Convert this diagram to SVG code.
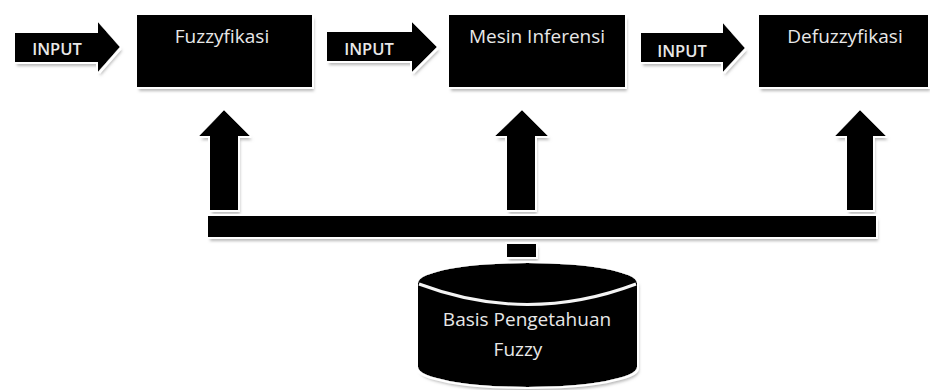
<svg xmlns="http://www.w3.org/2000/svg" width="930" height="390" viewBox="0 0 930 390">
<defs>
<filter id="sh" x="-10%" y="-10%" width="130%" height="140%">
<feMorphology in="SourceAlpha" operator="dilate" radius="2" result="d"/>
<feFlood flood-color="#ffffff"/>
<feComposite in2="d" operator="in" result="w"/>
<feOffset in="SourceAlpha" dx="2" dy="4" result="o"/>
<feGaussianBlur in="o" stdDeviation="1.5" result="b"/>
<feFlood flood-color="#9a9a9a" flood-opacity="0.7"/>
<feComposite in2="b" operator="in" result="g"/>
<feMerge><feMergeNode in="g"/><feMergeNode in="w"/><feMergeNode in="SourceGraphic"/></feMerge>
</filter>
</defs>
<style>
.blk{fill:#000}
.rim{fill:none;stroke:#f4f4f4;stroke-width:3}
.t{font-family:"Open Sans","Liberation Sans",sans-serif;fill:#e8e8e8;font-size:19px}
.in{font-family:"Open Sans","Liberation Sans",sans-serif;fill:#e8e8e8;font-size:16.5px;font-weight:600}
</style>
<rect width="930" height="390" fill="#fff"/>
<g id="connectors" filter="url(#sh)">
<polygon class="blk" points="15,33 98,33 98,22 120,47 98,72 98,62 15,62"/>
<polygon class="blk" points="327,32 412,32 412,22 437,47 412,72 412,61 327,61"/>
<polygon class="blk" points="641,33 723,33 723,23 745,48 723,72 723,62 641,62"/>
<polygon class="blk" points="210,210 210,136 199,136 224,110 250,136 238,136 238,210"/>
<polygon class="blk" points="507,210 507,136 495,136 522,110 548,136 535,136 535,210"/>
<polygon class="blk" points="847,210 847,136 835,136 860,110 886,136 873,136 873,210"/>
<rect class="blk" x="208" y="216" width="668" height="21"/>
<rect class="blk" x="507" y="244" width="29" height="13"/>
</g>
<g id="in1"><text class="in" x="57" y="55" text-anchor="middle">INPUT</text></g>
<g id="in2"><text class="in" x="369" y="55" text-anchor="middle">INPUT</text></g>
<g id="in3"><text class="in" x="682" y="57" text-anchor="middle">INPUT</text></g>
<g id="fuzzyfikasi">
<rect class="blk" x="137" y="15" width="175" height="72" filter="url(#sh)"/>
<text class="t" x="222" y="43" text-anchor="middle">Fuzzyfikasi</text>
</g>
<g id="mesin">
<rect class="blk" x="449" y="15" width="176" height="72" filter="url(#sh)"/>
<text class="t" x="537" y="43" text-anchor="middle">Mesin Inferensi</text>
</g>
<g id="defuzzyfikasi">
<rect class="blk" x="759" y="15" width="169" height="72" filter="url(#sh)"/>
<text class="t" x="845" y="43" text-anchor="middle">Defuzzyfikasi</text>
</g>
<g id="basis">
<path class="blk" filter="url(#sh)" d="M418,283 A109.5,20 0 0 1 637,283 L637,367 A109.5,20 0 0 1 418,367 Z"/>
<path class="rim" d="M419,284 Q527.5,325 636,284"/>
<text class="t" x="527" y="326" text-anchor="middle">Basis Pengetahuan</text>
<text class="t" x="518" y="356" text-anchor="middle">Fuzzy</text>
</g>
</svg>
